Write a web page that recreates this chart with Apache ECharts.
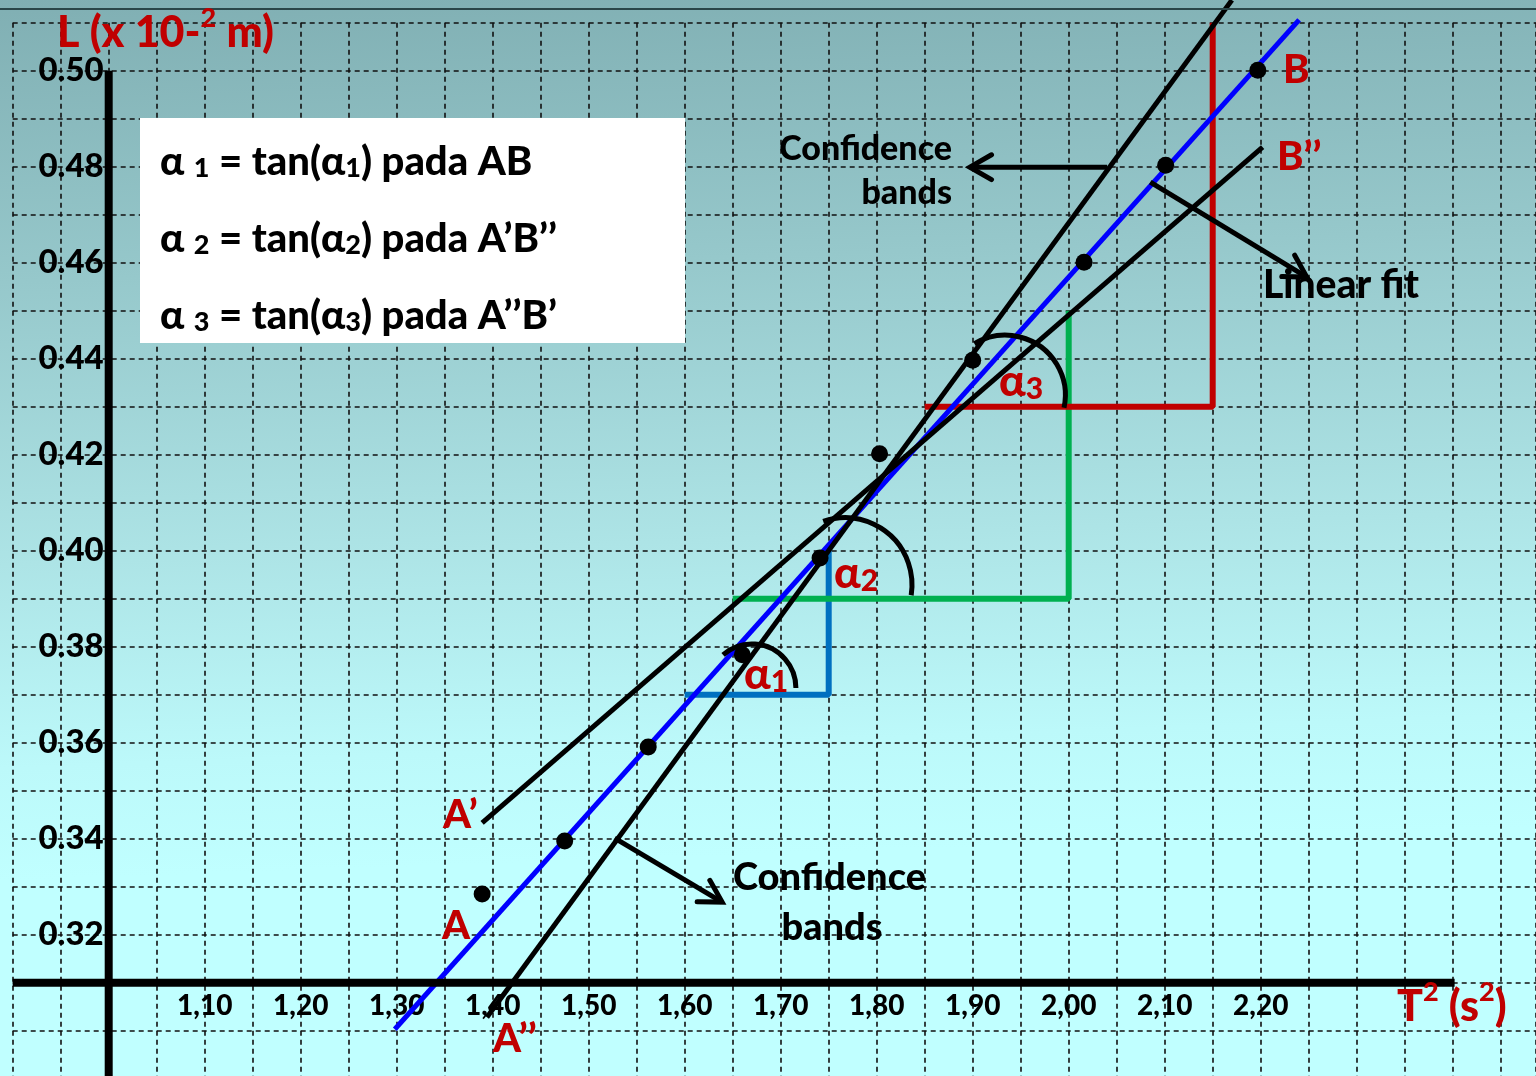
<!DOCTYPE html>
<html><head><meta charset="utf-8">
<script src="https://cdn.jsdelivr.net/npm/echarts@6/dist/echarts.min.js"></script>
<style>
html,body{margin:0;padding:0;}
#c{width:1536px;height:1076px;background:linear-gradient(178deg,#80afb3 0%,#96c8cb 25%,#ade4e6 50%,#bcf9fa 68%,#c0ffff 78%,#c0ffff 100%);}
</style></head><body><div id="c"></div>
<script>
// ---- data (T^2 in s^2, L in x10^-2 m) ----
const T2 = [1.389, 1.475, 1.562, 1.660, 1.741, 1.803, 1.900, 2.016, 2.101, 2.197];
const L  = [0.3285, 0.3395, 0.3591, 0.3783, 0.3985, 0.4202, 0.4397, 0.4601, 0.4803, 0.5001];
const fitLine   = [[1.298, 0.3003], [2.240, 0.5106]];          // linear fit A-B
const bandLow   = [[1.389, 0.3433], [2.202, 0.4841]];          // A'-B''
const bandHigh  = [[1.394, 0.3028], [2.170, 0.5147]];          // A''-B'
const tri1 = [[1.60, 0.37], [1.75, 0.37], [1.75, 0.40]];
const tri2 = [[1.65, 0.39], [2.00, 0.39], [2.00, 0.45]];
const tri3 = [[1.85, 0.43], [2.15, 0.43], [2.15, 0.51]];
const xAxisLine = [[0.90, 0.31], [2.402, 0.31]];
const yAxisLine = [[1.00, 0.50], [1.00, 0.29]];
const arcCenters = [[1.670, 0.3714, -131, 0], [1.767, 0.3929, -109, 9], [1.934, 0.4324, -121, 12]];
const arrowSegs = [[2.040, 0.4799, 1.897, 0.4799], [2.085, 0.4768, 2.248, 0.4570], [1.527, 0.3401, 1.639, 0.3268]];
const xTickValues = [1.10, 1.20, 1.30, 1.40, 1.50, 1.60, 1.70, 1.80, 1.90, 2.00, 2.10, 2.20];
const xTickLabels = ['1,10', '1,20', '1,30', '1,40', '1,50', '1,60', '1,70', '1,80', '1,90', '2,00', '2,10', '2,20'];
const yTickValues = [0.32, 0.34, 0.36, 0.38, 0.40, 0.42, 0.44, 0.46, 0.48, 0.50];
const yTickLabels = ['0.32', '0.34', '0.36', '0.38', '0.40', '0.42', '0.44', '0.46', '0.48', '0.50'];
// ---- style ----
const arcRadiusPx = [44, 67, 60];
const FF = 'Lato, "Open Sans", "DejaVu Sans", sans-serif';
const FW = 900;
const RED = '#c00000';

const xMap = {}; xTickValues.forEach((v, i) => xMap[Math.round(v * 100)] = xTickLabels[i]);
const yMap = {}; yTickValues.forEach((v, i) => yMap[Math.round(v * 100)] = yTickLabels[i]);

function lineSeries(data, color, width, z) {
  return { type: 'line', data: data, showSymbol: false, symbol: 'none', clip: false, silent: true, z: z || 2,
    lineStyle: { color: color, width: width, cap: 'butt' }, animation: false };
}
function tok(size, extra) { return Object.assign({ fontSize: size, fontWeight: FW, fontFamily: FF }, extra || {}); }
function txt(text, x, y, size, color, align, rich, vAlign) {
  return { type: 'text', x: x, y: y, z: 120, silent: true,
    style: { text: text, fontSize: size, fontWeight: FW, fontFamily: FF, fill: color,
      align: align || 'left', verticalAlign: vAlign || 'middle', rich: rich } };
}
const legendRich = {
  m: tok(40, { lineHeight: 48, verticalAlign: 'bottom', fill: '#000' }),
  s: tok(27, { lineHeight: 18, verticalAlign: 'bottom', fill: '#000' })
};
const alphaRich = {
  m: tok(44, { lineHeight: 50, verticalAlign: 'bottom', fill: RED }),
  s: tok(30, { lineHeight: 18, verticalAlign: 'bottom', fill: RED })
};
const supRich = {
  m: tok(43, { lineHeight: 50, verticalAlign: 'bottom', fill: RED }),
  p: tok(27, { lineHeight: 34, verticalAlign: 'top', fill: RED })
};

const chart = echarts.init(document.getElementById('c'), null, { renderer: 'canvas' });
chart.setOption({
  backgroundColor: 'transparent',
  animation: false,
  grid: { left: 12.7, right: 0, top: 22.7, bottom: -2.7, containLabel: false, outerBoundsMode: 'none' },
  xAxis: {
    type: 'value', min: 0.90, max: 2.48677, interval: 0.05, offset: -96,
    axisLine: { show: false }, axisTick: { show: false },
    splitLine: { show: true, lineStyle: { color: '#111', width: 1.6, type: [5, 4] } },
    axisLabel: { margin: 9, color: '#000', fontSize: 28, fontWeight: FW, fontFamily: FF,
      formatter: v => xMap[Math.round(v * 100)] || '' , showMinLabel: true, showMaxLabel: true, hideOverlap: false }
  },
  yAxis: {
    type: 'value', min: 0.29, max: 0.51, interval: 0.01, offset: -96,
    axisLine: { show: false }, axisTick: { show: false },
    splitLine: { show: true, lineStyle: { color: '#111', width: 1.6, type: [5, 4] } },
    axisLabel: { margin: 5, color: '#000', fontSize: 33, fontWeight: FW, fontFamily: FF,
      formatter: v => yMap[Math.round(v * 100)] || '', showMinLabel: true, showMaxLabel: true, hideOverlap: false }
  },
  graphic: [
    { type: 'rect', x: 0, y: 8, z: 90, silent: true, shape: { width: 1536, height: 2 }, style: { fill: '#2a4649' } },
    { type: 'rect', x: 140, y: 118, z: 100, silent: true, shape: { width: 545, height: 225 }, style: { fill: '#ffffff' } },
    txt('{m|α }{s|1}{m| = tan(α}{s|1}{m|) pada AB}', 160, 158, 40, '#000', 'left', legendRich),
    txt('{m|α }{s|2}{m| = tan(α}{s|2}{m|) pada A’B’’}', 160, 235, 40, '#000', 'left', legendRich),
    txt('{m|α }{s|3}{m| = tan(α}{s|3}{m|) pada A’’B’}', 160, 312, 40, '#000', 'left', legendRich),
    txt('{m|L (x 10-}{p|2}{m| m)}', 57, 30, 43, RED, 'left', supRich),
    txt('{m|T}{p|2}{m| (s}{p|2}{m|)}', 1397, 1004, 43, RED, 'left', supRich),
    txt('A', 442, 926, 40, RED),
    txt('A’', 443, 815, 40, RED),
    txt('A’’', 493, 1039, 40, RED),
    txt('B', 1283, 70, 40, RED),
    txt('B’’', 1277, 157, 40, RED),
    txt('{m|α}{s|1}', 744, 672, 44, RED, 'left', alphaRich),
    txt('{m|α}{s|2}', 834, 571, 44, RED, 'left', alphaRich),
    txt('{m|α}{s|3}', 999, 379, 44, RED, 'left', alphaRich),
    txt('Confidence', 952, 149, 34, '#000', 'right'),
    txt('bands', 952, 193, 34, '#000', 'right'),
    txt('Linear fit', 1263, 285, 39, '#000', 'left'),
    txt('Confidence', 733, 878, 38, '#000', 'left'),
    txt('bands', 832, 928, 38, '#000', 'center')
  ],
  series: [
    lineSeries(tri1, '#0070c0', 6),
    lineSeries(tri2, '#00b050', 6),
    lineSeries(tri3, RED, 6, 3),
    lineSeries(fitLine, '#0000ff', 5, 4),
    lineSeries(bandLow, '#000', 5, 5),
    lineSeries(bandHigh, '#000', 5, 5),
    lineSeries(xAxisLine, '#000', 8, 6),
    lineSeries(yAxisLine, '#000', 8, 6),
    { type: 'scatter', data: T2.map((t, i) => [t, L[i]]), symbolSize: 17, z: 7, silent: true,
      itemStyle: { color: '#000', opacity: 1 } },
    { type: 'custom', z: 8, silent: true, clip: false, data: arcCenters,
      renderItem: (params, api) => {
        const c = api.coord([api.value(0), api.value(1)]);
        return { type: 'arc', shape: { cx: c[0], cy: c[1], r: arcRadiusPx[params.dataIndex],
            startAngle: api.value(2) * Math.PI / 180, endAngle: api.value(3) * Math.PI / 180, clockwise: true },
          style: { stroke: '#000', lineWidth: 5, fill: null } };
      } },
    { type: 'custom', z: 8, silent: true, clip: false, data: arrowSegs,
      encode: { x: [0, 2], y: [1, 3] },
      renderItem: (params, api) => {
        const p1 = api.coord([api.value(0), api.value(1)]);
        const p2 = api.coord([api.value(2), api.value(3)]);
        const a = Math.atan2(p2[1] - p1[1], p2[0] - p1[0]);
        const hl = 25, ha = 0.52;
        const h1 = [p2[0] - hl * Math.cos(a - ha), p2[1] - hl * Math.sin(a - ha)];
        const h2 = [p2[0] - hl * Math.cos(a + ha), p2[1] - hl * Math.sin(a + ha)];
        return { type: 'group', children: [
          { type: 'line', shape: { x1: p1[0], y1: p1[1], x2: p2[0], y2: p2[1] }, style: { stroke: '#000', lineWidth: 5 } },
          { type: 'polyline', shape: { points: [h1, p2, h2] }, style: { stroke: '#000', lineWidth: 5, fill: null, lineCap: 'round' } }
        ] };
      } }
  ]
});
</script></body></html>
